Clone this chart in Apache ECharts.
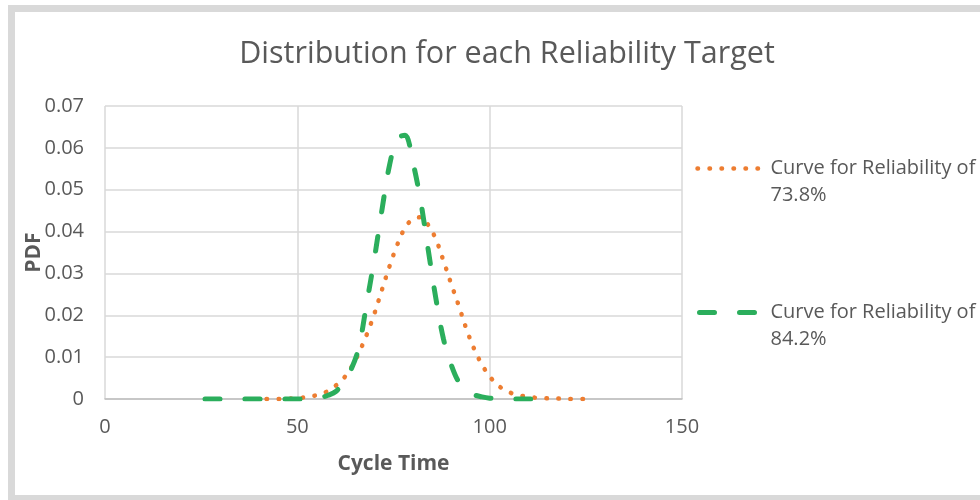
<!DOCTYPE html>
<html>
<head>
<meta charset="utf-8">
<script src="https://cdn.jsdelivr.net/npm/echarts@6/dist/echarts.min.js"></script>
<style>
html,body{margin:0;padding:0;background:#fff;}
#chart{width:980px;height:500px;}
</style>
</head>
<body>
<div id="chart"></div>
<script>
const titleText = 'Distribution for each Reliability Target';
const xAxisName = 'Cycle Time';
const yAxisName = 'PDF';
const seriesNames = ['Curve for Reliability of\n73.8%', 'Curve for Reliability of\n84.2%'];

const orangeX = [42, 46, 50, 54, 56, 58, 60, 62, 64, 66, 68, 70, 72, 74, 76, 78, 80, 82, 84, 86, 88, 90, 92, 94, 96, 98, 100, 102, 104, 106, 110, 114, 118, 122, 125];
const orangeY = [0, 0.00003, 0.0002, 0.0007, 0.0012, 0.0019, 0.0032, 0.0049, 0.0075, 0.0110, 0.0153, 0.0203, 0.0261, 0.0318, 0.0369, 0.0409, 0.0430, 0.0434, 0.0416, 0.0382, 0.0330, 0.0275, 0.0222, 0.0166, 0.0119, 0.0082, 0.0054, 0.0034, 0.0021, 0.0013, 0.0005, 0.0002, 0.0001, 0, 0];

const greenX = [26, 32, 38, 44, 50, 54, 56, 58, 60, 62, 64, 66, 68, 70, 72, 74, 76, 78, 80, 82, 84, 86, 88, 90, 92, 94, 96, 98, 100, 104, 110, 116];
const greenY = [0, 0, 0, 0, 0, 0.0001, 0.0003, 0.0009, 0.0018, 0.0040, 0.0071, 0.0124, 0.0227, 0.0334, 0.0452, 0.0560, 0.0622, 0.0630, 0.0567, 0.0476, 0.0358, 0.0241, 0.0143, 0.0082, 0.0040, 0.0020, 0.0010, 0.0005, 0.0002, 0, 0, 0];

const xTicks = {min: 0, max: 150, interval: 50};
const yTicks = {min: 0, max: 0.07, interval: 0.01};

const pairs = (xs, ys) => xs.map((x, i) => [x, ys[i]]);

const ORANGE = '#ED7D31';
const GREEN = '#2BAE5C';
const orangeLine = {color: ORANGE, width: 4.5, type: [0.5, 11.5], cap: 'round'};
const greenLine = {color: GREEN, width: 5, type: [15, 25], cap: 'round'};

const chart = echarts.init(document.getElementById('chart'));
const fontFam = "'Open Sans', 'Noto Sans', sans-serif";
chart.setOption({
  animation: false,
  backgroundColor: '#ffffff',
  textStyle: {fontFamily: fontFam},
  graphic: [{
    type: 'rect',
    silent: true,
    shape: {x: 11.5, y: 8.5, width: 1000, height: 490},
    style: {fill: 'none', stroke: '#d9d9d9', lineWidth: 7}
  }],
  title: {
    text: titleText,
    left: 502,
    top: 34,
    textAlign: 'center',
    textStyle: {fontFamily: fontFam, fontSize: 30.5, fontWeight: 'normal', color: '#595959'}
  },
  grid: {left: 105, right: 298, top: 106, bottom: 101, containLabel: false},
  legend: {
    orient: 'vertical',
    left: 689,
    top: 123,
    itemWidth: 69,
    itemHeight: 14,
    itemGap: 63,
    formatter: name => '\n' + name,
    itemStyle: {opacity: 0},
    textStyle: {fontFamily: fontFam, fontSize: 20, color: '#595959', lineHeight: 27},
    data: [
      {name: seriesNames[0], lineStyle: Object.assign({dashOffset: -1}, orangeLine)},
      {name: seriesNames[1], lineStyle: Object.assign({dashOffset: -3}, greenLine)}
    ]
  },
  xAxis: {
    type: 'value',
    min: xTicks.min, max: xTicks.max, interval: xTicks.interval,
    name: xAxisName,
    nameLocation: 'middle',
    nameGap: 55,
    nameMoveOverlap: false,
    nameTextStyle: {fontFamily: fontFam, fontSize: 21, fontWeight: 'bold', color: '#595959'},
    axisLine: {show: true, onZero: false, lineStyle: {color: '#bfbfbf', width: 1.5}},
    axisTick: {show: false},
    axisLabel: {fontSize: 20, color: '#595959', margin: 18},
    splitLine: {show: true, lineStyle: {color: '#d9d9d9', width: 1.5}}
  },
  yAxis: {
    type: 'value',
    min: yTicks.min, max: yTicks.max, interval: yTicks.interval,
    name: yAxisName,
    nameLocation: 'middle',
    nameGap: 60,
    nameMoveOverlap: false,
    nameRotate: 90,
    nameTextStyle: {fontFamily: fontFam, fontSize: 21, fontWeight: 'bold', color: '#595959'},
    axisLine: {show: false},
    axisTick: {show: false},
    axisLabel: {fontSize: 20, color: '#595959', margin: 21},
    splitLine: {show: true, lineStyle: {color: '#d9d9d9', width: 1.5}}
  },
  series: [
    {
      name: seriesNames[0],
      type: 'line',
      data: pairs(orangeX, orangeY),
      smooth: 0.35,
      symbol: 'none',
      showSymbol: false,
      lineStyle: orangeLine,
      itemStyle: {color: ORANGE}
    },
    {
      name: seriesNames[1],
      type: 'line',
      data: pairs(greenX, greenY),
      smooth: 0.35,
      symbol: 'none',
      showSymbol: false,
      lineStyle: greenLine,
      itemStyle: {color: GREEN}
    }
  ]
});
</script>
</body>
</html>
